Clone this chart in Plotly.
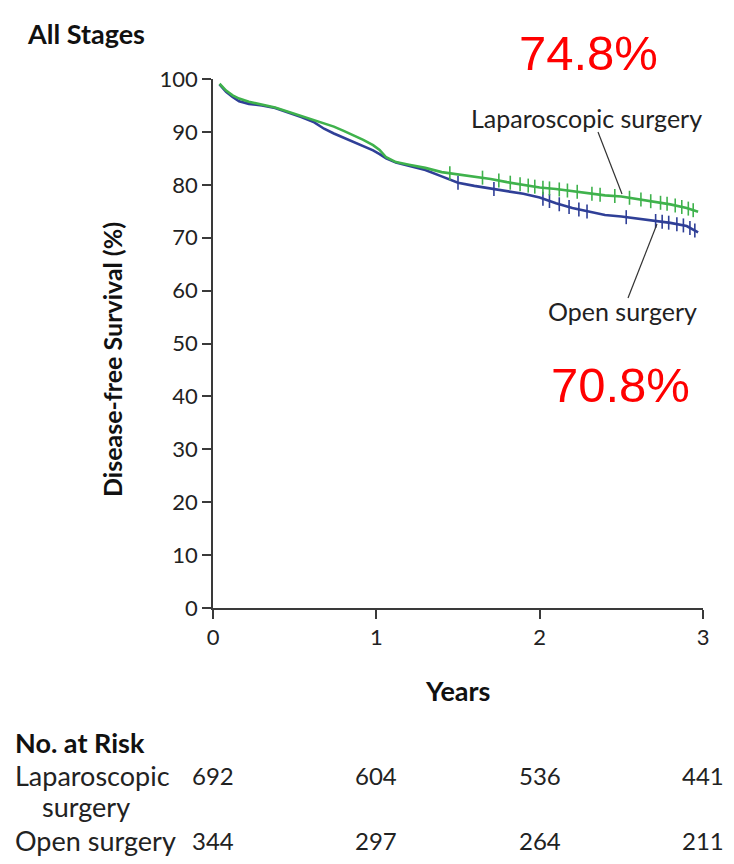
import numpy as np
import plotly.graph_objects as go

# ---------------- data ----------------
lap_t = [0.04, 0.08, 0.12, 0.16, 0.22, 0.30, 0.38, 0.46, 0.54, 0.62, 0.68, 0.74, 0.80,
         0.86, 0.92, 0.98, 1.02, 1.06, 1.12, 1.20, 1.30, 1.40, 1.50, 1.60, 1.70, 1.80,
         1.90, 2.00, 2.10, 2.20, 2.30, 2.40, 2.50, 2.60, 2.70, 2.80, 2.90, 2.97]
lap_s = [99.1, 97.8, 96.9, 96.3, 95.7, 95.2, 94.6, 93.8, 93.0, 92.3, 91.6, 91.0, 90.2,
         89.4, 88.5, 87.5, 86.6, 85.2, 84.3, 83.8, 83.2, 82.4, 82.0, 81.6, 81.1, 80.5,
         80.0, 79.5, 79.2, 78.8, 78.4, 78.0, 77.8, 77.3, 76.8, 76.3, 75.6, 74.9]
open_t = [0.04, 0.08, 0.12, 0.16, 0.22, 0.30, 0.38, 0.46, 0.54, 0.62, 0.68, 0.74, 0.80,
          0.86, 0.92, 0.98, 1.02, 1.06, 1.12, 1.20, 1.30, 1.40, 1.50, 1.60, 1.70, 1.80,
          1.90, 2.00, 2.10, 2.20, 2.30, 2.40, 2.50, 2.60, 2.70, 2.80, 2.90, 2.97]
open_s = [99.0, 97.6, 96.6, 95.8, 95.3, 95.0, 94.5, 93.7, 92.8, 91.8, 90.6, 89.7, 88.9,
          88.1, 87.3, 86.5, 85.8, 85.0, 84.2, 83.6, 82.8, 81.6, 80.4, 79.8, 79.3, 78.9,
          78.3, 77.6, 76.5, 75.6, 74.9, 74.3, 74.0, 73.6, 73.2, 72.8, 72.2, 71.0]
lap_cens = [1.45, 1.65, 1.75, 1.82, 1.88, 1.93, 1.97, 2.02, 2.06, 2.12, 2.17, 2.23, 2.32,
            2.37, 2.46, 2.55, 2.62, 2.68, 2.74, 2.78, 2.83, 2.87, 2.91, 2.94]
open_cens = [1.50, 1.72, 2.02, 2.06, 2.12, 2.18, 2.24, 2.29, 2.53, 2.71, 2.75, 2.79,
             2.84, 2.88, 2.92, 2.95]

years = [0, 1, 2, 3]
yticks = list(range(0, 101, 10))
risk_lap = [692, 604, 536, 441]
risk_open = [344, 297, 264, 211]

lap_label = "74.8%"
open_label = "70.8%"

# ---------------- styling ----------------
GREEN = "#3fb24c"
BLUE = "#2f3f97"
AX = "#3a3a3a"
FONT = "Lato, 'Open Sans', sans-serif"

W, H = 734, 864
OFF = 8  # page offset of the figure inside the screenshot
L, R, T, B = 213 - OFF, 39, 79 - OFF, 264
pw, ph = W - L - R, H - T - B


def px(x):
    return (x - OFF - L) / pw


def py(y):
    return (H - B - (y - OFF)) / ph


def surv_at(ts, ss, q):
    return np.interp(q, np.asarray(ts), np.asarray(ss))


fig = go.Figure()
fig.add_trace(go.Scatter(x=open_t, y=open_s, mode="lines",
                         line=dict(color=BLUE, width=2.6), showlegend=False))
fig.add_trace(go.Scatter(x=open_cens, y=surv_at(open_t, open_s, open_cens), mode="markers",
                         marker=dict(symbol="line-ns-open", size=10, color=BLUE,
                                     line=dict(color=BLUE, width=1.6)), showlegend=False))
fig.add_trace(go.Scatter(x=lap_t, y=lap_s, mode="lines",
                         line=dict(color=GREEN, width=2.6), showlegend=False))
fig.add_trace(go.Scatter(x=lap_cens, y=surv_at(lap_t, lap_s, lap_cens), mode="markers",
                         marker=dict(symbol="line-ns-open", size=10, color=GREEN,
                                     line=dict(color=GREEN, width=1.6)), showlegend=False))

fig.update_xaxes(range=[0, 3], tickvals=years, ticktext=[str(v) for v in years],
                 showgrid=False, zeroline=False, showline=True, linecolor=AX, linewidth=1.5,
                 ticks="outside", ticklen=9, tickwidth=1.5, tickcolor=AX,
                 tickfont=dict(family=FONT, size=22, color="#222"))
fig.update_yaxes(range=[0, 100], tickvals=yticks, showgrid=False, zeroline=False,
                 showline=True, linecolor=AX, linewidth=1.5,
                 ticks="outside", ticklen=9, tickwidth=1.5, tickcolor=AX,
                 tickfont=dict(family=FONT, size=22, color="#222"))


def txt(text, x, y, size, xanchor="left", color="#222", angle=0, family=FONT):
    return dict(text=text, x=px(x), y=py(y), xref="paper", yref="paper",
                xanchor=xanchor, yanchor="middle", showarrow=False, textangle=angle,
                font=dict(family=family, size=size, color=color))


ann = [
    txt("<b>All Stages</b>", 25, 33, 27, color="#111"),
    txt("<b>Disease-free Survival (%)</b>", 112, 360, 25, xanchor="center", color="#111", angle=-90),
    txt("<b>Years</b>", 457, 690, 27, xanchor="center", color="#111"),
    txt("<b>No. at Risk</b>", 13, 742, 27, color="#111"),
    txt("Laparoscopic", 13, 775, 27),
    txt("surgery", 40, 806, 27),
    txt("Open surgery", 13, 840, 27),
    txt("Laparoscopic surgery", 586, 118, 25, xanchor="center"),
    txt("Open surgery", 622, 311, 25, xanchor="center"),
]
RED_FONT = "'Liberation Sans', Arial, sans-serif"
ann.append(txt(lap_label, 588, 53, 49, xanchor="center", color="#ff0000", family=RED_FONT))
ann.append(txt(open_label, 620, 385, 49, xanchor="center", color="#ff0000", family=RED_FONT))

for yr, a, b in zip(years, risk_lap, risk_open):
    for val, yy in ((a, 775), (b, 840)):
        ann.append(dict(text=str(val), x=yr, y=py(yy), xref="x", yref="paper",
                        xanchor="center", yanchor="middle", showarrow=False,
                        font=dict(family=FONT, size=24, color="#222")))

shapes = [
    dict(type="line", xref="paper", yref="paper", x0=px(598), y0=py(132), x1=px(622), y1=py(194),
         line=dict(color="#333", width=1.2)),
    dict(type="line", xref="paper", yref="paper", x0=px(628), y0=py(298), x1=px(657), y1=py(224),
         line=dict(color="#333", width=1.2)),
]

fig.update_layout(width=W, height=H, margin=dict(l=L, r=R, t=T, b=B),
                  paper_bgcolor="white", plot_bgcolor="white",
                  annotations=ann, shapes=shapes, showlegend=False)

fig.write_html("out.html")
